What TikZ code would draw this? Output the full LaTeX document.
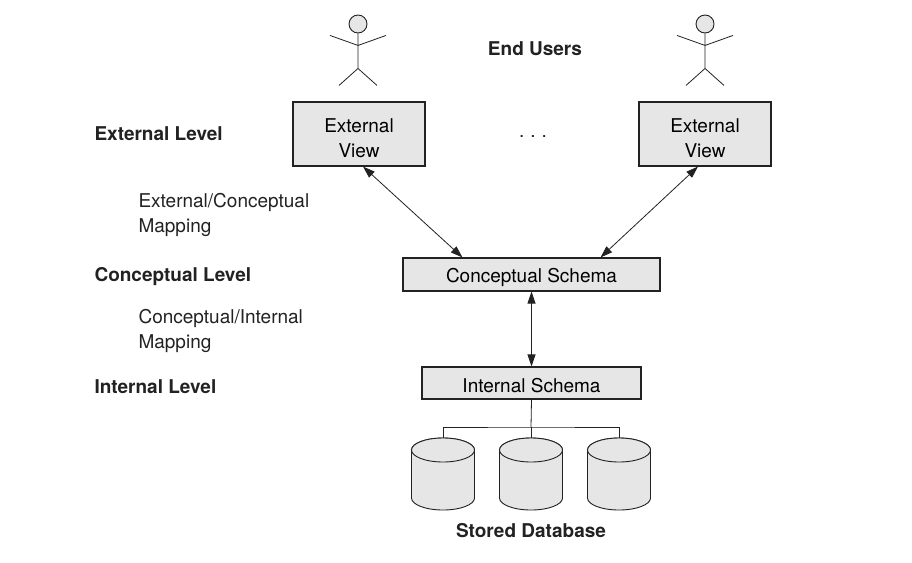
\documentclass[tikz,border=0pt]{standalone}
\usepackage{fontspec}
\setmainfont{TeX Gyre Heros}
\usetikzlibrary{positioning,calc,arrows.meta}
\definecolor{boxgray}{HTML}{E6E6E6}
\definecolor{inkgray}{HTML}{222222}
\tikzset{block/.style={draw=inkgray,line width=1.1pt,fill=boxgray,align=center,inner sep=0pt},
         level/.style={anchor=west,font=\fontsize{19}{25}\selectfont\bfseries,text=inkgray},
         mapping/.style={anchor=west,align=left,text=inkgray},
         disk/.style={draw=inkgray,line width=0.9pt,fill=boxgray},
         line/.style={line width=0.8pt,draw=inkgray}
}
\tikzstyle{arrow} = [line width=0.8pt,draw=inkgray,{Triangle[length=12pt,width=8pt]}-{Triangle[length=12pt,width=8pt]}]
\begin{document}
\begin{tikzpicture}[x=1pt,y=-1pt,font=\fontsize{19}{25}\selectfont]

\useasboundingbox[fill=white] (0,0) rectangle (912,562);

% views, schemas
\node[block,minimum width=132pt,minimum height=64pt] (ext1) at (359,134) {\raisebox{-6pt}[\height][\depth]{\begin{tabular}{@{}c@{}}External\\View\end{tabular}}};
\node[block,minimum width=132pt,minimum height=64pt] (ext2) at (705,134) {\raisebox{-6pt}[\height][\depth]{\begin{tabular}{@{}c@{}}External\\View\end{tabular}}};
\node[text=inkgray] (dots) at (533,137) {.\hspace{6pt}.\hspace{6pt}.};
\node[level,anchor=center] (users) at (535,49) {End Users};
\node[block,minimum width=257pt,minimum height=33pt] (concept) at (531.5,274.5) {\raisebox{-2.5pt}[\height][\depth]{Conceptual Schema}};
\node[block,minimum width=219pt,minimum height=32pt] (internal) at (531.5,383) {\raisebox{-2.5pt}[\height][\depth]{Internal Schema}};
\node[level,anchor=center] (stored) at (531,531) {Stored Database};

% levels on the left
\node[level] (extlevel) at (91,134) {External Level};
\node[mapping] (extmap) at (135,215) {External/Conceptual\\Mapping};
\node[level] (conlevel) at (91,277) {Conceptual Level};
\node[mapping] (conmap) at (135,331) {Conceptual/Internal\\Mapping};
\node[level] (intlevel) at (91,387) {Internal Level};

% disks
\foreach \name/\x in {db1/443,db2/531,db3/619}{
  \path[disk] (\x-31.5,450) -- (\x-31.5,498) arc (180:0:31.5 and 12) -- (\x+31.5,450) arc (0:-180:31.5 and 12) -- cycle;
  \draw[disk] (\x,450) ellipse (31.5 and 12);
  \coordinate (\name) at (\x,438);
}

% end users
\foreach \name/\x in {user1/358,user2/705}{
  \node[circle,draw=inkgray,line width=0.9pt,fill=boxgray,minimum size=18pt,inner sep=0pt] (\name) at (\x,24) {};
  \draw[line] (\name.south) -- ++(0,35) coordinate (\name hip)
        ++(0,-23) -- ++(-28,-10) ++(28,10) -- ++(28,-10);
  \draw[line] ($(\name hip)+(-19,17)$) -- (\name hip) -- ++(19,17);
}

\draw[arrow] ([xshift=4pt]ext1.south) -- ([xshift=-69pt]concept.north);
\draw[arrow] ([xshift=-7pt]ext2.south) -- ([xshift=69pt]concept.north);
\draw[arrow] (concept.south) -- (internal.north);

\coordinate (bus) at (531,427);
\draw[line] (internal.south) -- (bus);
\draw[line] (db1) |- (bus) -| (db3);
\draw[line] (db2) -- (bus);

\end{tikzpicture}
\end{document}
